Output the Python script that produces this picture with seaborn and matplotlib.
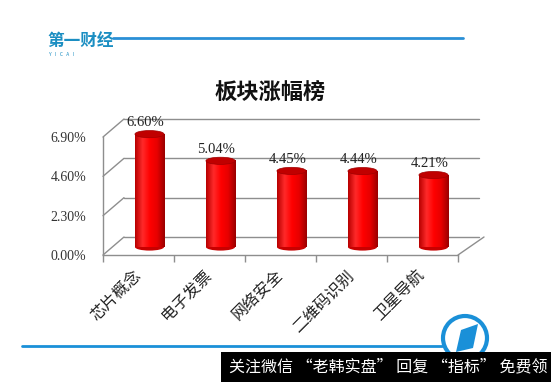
import matplotlib
matplotlib.use("Agg")
import numpy as np
import pandas as pd
import matplotlib.pyplot as plt
import matplotlib.transforms as mtransforms
from matplotlib.lines import Line2D
from matplotlib.patches import Ellipse, Rectangle, Polygon
from matplotlib.colors import LinearSegmentedColormap
import seaborn as sns

# data
sectors = ["芯片概念", "电子发票", "网络安全", "二维码识别", "卫星导航"]
gains = [6.60, 5.04, 4.45, 4.44, 4.21]
y_ticks = [0.0, 2.3, 4.6, 6.9]
title = "板块涨幅榜"
logo = "第一财经"
banner = "关注微信 “老韩实盘” 回复 “指标” 免费领"

W, H = 551, 382
sns.set_theme(style="white")
plt.rcParams['font.family'] = ['Noto Sans CJK SC', 'DejaVu Sans']
serif = ['Liberation Serif', 'DejaVu Serif']

fig = plt.figure(figsize=(W / 100, H / 100), dpi=100)
ax = fig.add_axes([103 / W, 127 / H, 355 / W, 118 / H])
ax.patch.set_alpha(0)

df = pd.DataFrame({"sector": sectors, "gain": gains})
sns.barplot(data=df, x="sector", y="gain", color="#ee0000", saturation=1,
            width=0.41, ax=ax, zorder=3)
ax.set_xlim(-0.5, len(sectors) - 0.5)
ax.set_ylim(0, y_ticks[-1])

# fake 3D: back wall and bar plane offsets (pixels)
grey = "#8e8e8e"
back = mtransforms.ScaledTranslation(0.21, 0.18, fig.dpi_scale_trans)
mid = mtransforms.ScaledTranslation(0.11, 0.08, fig.dpi_scale_trans)

for t in y_ticks:
    ax.add_line(Line2D([0, 1], [t, t], color=grey, lw=1, clip_on=False,
                       transform=ax.get_yaxis_transform() + back, zorder=1))
    p0 = ax.transData.transform((-0.5, t))
    ax.add_line(Line2D([p0[0], p0[0] + 21], [p0[1], p0[1] + 18], color=grey,
                       lw=1, clip_on=False, transform=None, zorder=1))
p1 = ax.transData.transform((len(sectors) - 0.5, 0))
ax.add_line(Line2D([p1[0], p1[0] + 26], [p1[1], p1[1] + 18], color=grey,
                   lw=1, clip_on=False, transform=None, zorder=1))

# cylinders
cmap = LinearSegmentedColormap.from_list(
    "cyl", ["#b80000", "#ff2a2a", "#ff0000", "#e60000", "#9a0000"])
grad = np.linspace(0, 1, 64).reshape(1, -1)
cap = 0.42
for bar, v in zip(ax.patches, gains):
    x0, w = bar.get_x(), bar.get_width()
    bar.set_transform(ax.transData + mid)
    bar.set_edgecolor("none")
    im = ax.imshow(grad, cmap=cmap, aspect="auto", extent=[x0, x0 + w, 0, v],
                   zorder=3, clip_on=False)
    im.set_transform(ax.transData + mid)
    bar.set_visible(False)
    bottom = Ellipse((x0 + w / 2, 0), w, cap, facecolor="#c80000",
                     edgecolor="none", zorder=2.9, clip_on=False,
                     transform=ax.transData + mid)
    top = Ellipse((x0 + w / 2, v), w, cap, facecolor="#c00000",
                  edgecolor="#a00000", lw=0.5, zorder=4, clip_on=False,
                  transform=ax.transData + mid)
    ax.add_patch(bottom)
    ax.add_patch(top)
    ax.annotate(f"{v:.2f}%", (x0 + w / 2, v), xycoords=ax.transData + mid,
                xytext=(-4, 5), textcoords="offset pixels", ha="center",
                va="bottom", fontsize=10.5, family=serif, color="#222222",
                zorder=5)

# axes styling
for s in ["top", "right"]:
    ax.spines[s].set_visible(False)
for s in ["left", "bottom"]:
    ax.spines[s].set_color(grey)
    ax.spines[s].set_linewidth(1)
ax.set_yticks(y_ticks)
ax.set_yticklabels([f"{t:.2f}%" for t in y_ticks], family=serif, fontsize=10,
                   color="#333333")
ax.tick_params(axis="y", length=0, pad=12)
ax.set_xticks(range(len(sectors)))
ax.set_xticklabels(sectors, rotation=45, ha="right", va="center",
                   rotation_mode="anchor", fontsize=11.5, color="#222222")
ax.tick_params(axis="x", length=0, pad=13)
ax.set_xticks(np.arange(-0.5, len(sectors)), minor=True)
ax.tick_params(axis="x", which="minor", length=5, color=grey, direction="out",
               bottom=True)
ax.set_xlabel("")
ax.set_ylabel("")

# title
fig.text(270 / W, 1 - 92 / H, title, fontsize=16, weight="bold", ha="center",
         va="center", color="#111111")

# header logo and line
fig.text(47 / W, 1 - 41 / H, logo, fontsize=12, weight="bold", color="#1b8ec2",
         va="center", ha="left")
fig.text(49 / W, 1 - 54 / H, "Y   I   C   A   I", fontsize=3.5,
         color="#1b8ec2", va="center", ha="left")
fig.add_artist(Line2D([113 / W, 463 / W], [1 - 38 / H] * 2, color="#2a8fd6",
                      lw=2, transform=fig.transFigure))

# footer line, round logo, banner
fig.add_artist(Line2D([22 / W, 442 / W], [1 - 346 / H] * 2, color="#1a90d8",
                      lw=2, transform=fig.transFigure))
fig.add_artist(Ellipse((465 / W, 1 - 338 / H), 44 / W, 44 / H,
                       facecolor="white", edgecolor="#1a90d8", lw=3,
                       transform=fig.transFigure, zorder=5))
fig.add_artist(Polygon([(456 / W, 1 - 352 / H), (461 / W, 1 - 330 / H),
                        (478 / W, 1 - 324 / H), (473 / W, 1 - 348 / H)],
                       closed=True, facecolor="#1a90d8", edgecolor="none",
                       transform=fig.transFigure, zorder=6))
fig.add_artist(Rectangle((221 / W, 0), (W - 221) / W, 30 / H,
                         facecolor="black", edgecolor="none",
                         transform=fig.transFigure, zorder=7))
fig.text(229 / W, 1 - 367 / H, banner, fontsize=11.5, color="white",
         va="center", ha="left", zorder=8)

fig.savefig("out.png", dpi=100)
